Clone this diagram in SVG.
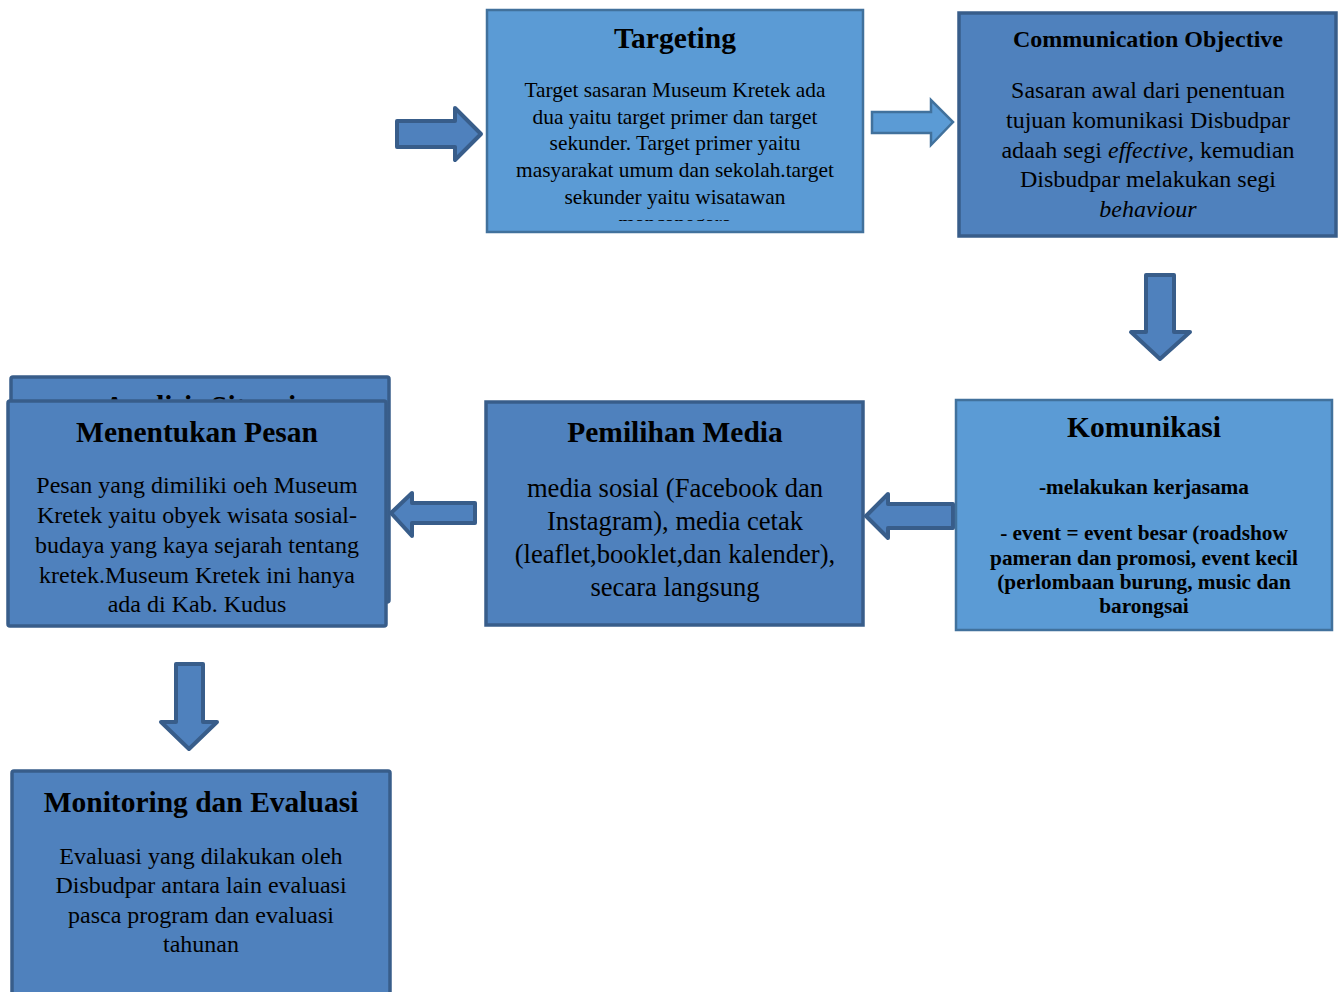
<svg xmlns="http://www.w3.org/2000/svg" width="1340" height="992" viewBox="0 0 1340 992">
<style>
.dark{fill:#4F81BD;stroke:#385D8A;stroke-width:3.5}
.light{fill:#5B9BD5;stroke:#41719C;stroke-width:2.5}
.arrD{fill:#4F81BD;stroke:#385D8A;stroke-width:4;stroke-linejoin:round}
.arrL{fill:#5B9BD5;stroke:#41719C;stroke-width:2.5}
text{font-family:"Liberation Serif","Times New Roman",serif;fill:#000;text-anchor:middle}
.t{font-weight:bold;font-size:29.5px}
.b18{font-size:21.4px}
.b21{font-size:24px}
.b24{font-size:26.6px}
.k{font-weight:bold;font-size:21.3px}
</style>
<defs>
<clipPath id="clipT"><rect x="487" y="10" width="376" height="211"/></clipPath>
<clipPath id="clipA"><rect x="0" y="370" width="400" height="31"/></clipPath>
</defs>
<g id="connectors">
<polygon class="arrD" points="397,121 455,121 455,108 481,134 455,160 455,147 397,147"/>
<polygon class="arrL" points="872,112 931,112 931,100 953,122 931,145 931,133 872,133"/>
<polygon class="arrD" points="1146,275 1174,275 1174,332 1190,332 1160,359 1131,332 1146,332"/>
<polygon class="arrD" points="953,504 953,528 888,528 888,538 866,516 888,494 888,504"/>
<polygon class="arrD" points="475,503 475,523 412,523 412,536 391,513 412,493 412,503"/>
<polygon class="arrD" points="176,664 203,664 203,722 217,722 189,749 161,722 176,722"/>
</g>
<g id="targeting">
<rect class="light" x="487" y="10" width="376" height="222"/>
<text class="t" x="675" y="48">Targeting</text>
<g clip-path="url(#clipT)">
<text class="b18" x="675" y="97">Target sasaran Museum Kretek ada</text>
<text class="b18" x="675" y="124">dua yaitu target primer dan target</text>
<text class="b18" x="675" y="150">sekunder. Target primer yaitu</text>
<text class="b18" x="675" y="177">masyarakat umum dan sekolah.target</text>
<text class="b18" x="675" y="204">sekunder yaitu wisatawan</text>
<text class="b18" x="675" y="230">mancanegara</text>
</g>
</g>
<g id="comm-objective">
<rect class="dark" x="959" y="13" width="377" height="223"/>
<text x="1148" y="47" style="font-weight:bold;font-size:24px">Communication Objective</text>
<text class="b21" x="1148" y="98">Sasaran awal dari penentuan</text>
<text class="b21" x="1148" y="128">tujuan komunikasi Disbudpar</text>
<text class="b21" x="1148" y="158">adaah segi <tspan font-style="italic">effective,</tspan> kemudian</text>
<text class="b21" x="1148" y="187">Disbudpar melakukan segi</text>
<text class="b21" x="1148" y="217" font-style="italic">behaviour</text>
</g>
<g id="komunikasi">
<rect class="light" x="956" y="400" width="376" height="230"/>
<text class="t" x="1144" y="437">Komunikasi</text>
<text class="k" x="1144" y="494">-melakukan kerjasama</text>
<text class="k" x="1144" y="540">- event = event besar (roadshow</text>
<text class="k" x="1144" y="565">pameran dan promosi, event kecil</text>
<text class="k" x="1144" y="589">(perlombaan burung, music dan</text>
<text class="k" x="1144" y="613">barongsai</text>
</g>
<g id="pemilihan-media">
<rect class="dark" x="486" y="402" width="377" height="223"/>
<text class="t" x="675" y="442">Pemilihan Media</text>
<text class="b24" x="675" y="497">media sosial (Facebook dan</text>
<text class="b24" x="675" y="530">Instagram), media cetak</text>
<text class="b24" x="675" y="563">(leaflet,booklet,dan kalender),</text>
<text class="b24" x="675" y="596">secara langsung</text>
</g>
<g id="analisis-situasi">
<rect class="dark" x="11" y="377" width="378" height="225" rx="2"/>
<text class="t" x="200" y="416" clip-path="url(#clipA)">Analisis Situasi</text>
</g>
<g id="menentukan-pesan">
<rect class="dark" x="8" y="401" width="378" height="225" rx="2"/>
<text class="t" x="197" y="442">Menentukan Pesan</text>
<text class="b21" x="197" y="493">Pesan yang dimiliki oeh Museum</text>
<text class="b21" x="197" y="523">Kretek yaitu obyek wisata sosial-</text>
<text class="b21" x="197" y="553">budaya yang kaya sejarah tentang</text>
<text class="b21" x="197" y="583">kretek.Museum Kretek ini hanya</text>
<text class="b21" x="197" y="612">ada di Kab. Kudus</text>
</g>
<g id="monitoring">
<rect class="dark" x="12" y="771" width="378" height="230" rx="2"/>
<text class="t" x="201" y="812">Monitoring dan Evaluasi</text>
<text class="b21" x="201" y="864">Evaluasi yang dilakukan oleh</text>
<text class="b21" x="201" y="893">Disbudpar antara lain evaluasi</text>
<text class="b21" x="201" y="923">pasca program dan evaluasi</text>
<text class="b21" x="201" y="952">tahunan</text>
</g>
</svg>
